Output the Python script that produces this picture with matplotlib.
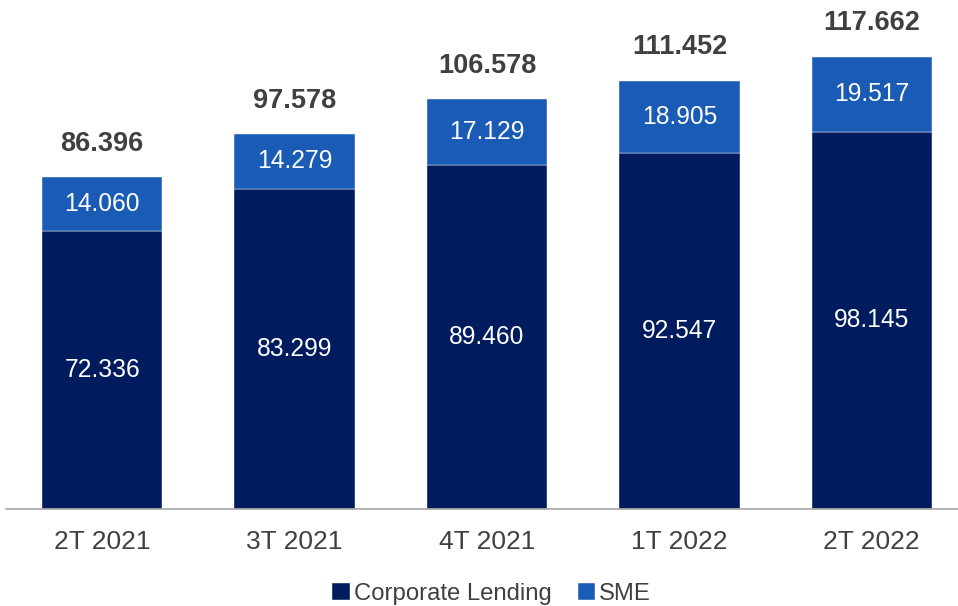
"""Stacked bar chart: Corporate Lending + SME by quarter."""

import matplotlib
matplotlib.use("Agg")
import matplotlib.pyplot as plt
import numpy as np

matplotlib.rcParams["font.family"] = ["Liberation Sans", "DejaVu Sans"]

quarters = ["2T 2021", "3T 2021", "4T 2021", "1T 2022", "2T 2022"]
corporate = [72.336, 83.299, 89.460, 92.547, 98.145]
sme = [14.060, 14.279, 17.129, 18.905, 19.517]
totals = [86.396, 97.578, 106.578, 111.452, 117.662]

NAVY = "#001B5E"
BLUE = "#1A5CB5"
TEXT = "#404040"


def fmt(v):
    return f"{v:.3f}"


fig = plt.figure(figsize=(9.58, 6.06), dpi=100)
ax = fig.add_axes([6 / 958, 97 / 606, 952 / 958, 509 / 606])

x = np.arange(len(quarters))
w = 0.625
b1 = ax.bar(x, corporate, w, color=NAVY, edgecolor="white", linewidth=0.3,
            label="Corporate Lending")
b2 = ax.bar(x, sme, w, bottom=corporate, color=BLUE, edgecolor="white",
            linewidth=0.3, label="SME")

for xi, c, s, t in zip(x, corporate, sme, totals):
    ax.text(xi, c / 2, fmt(c), ha="center", va="center", color="white", fontsize=17.7)
    ax.text(xi, c + s / 2, fmt(s), ha="center", va="center", color="white", fontsize=17.7)
    ax.annotate(fmt(t), (xi, t), xytext=(0, 24), textcoords="offset points",
                ha="center", va="center", color=TEXT, fontsize=19.5, fontweight="bold")

ax.set_xlim(-0.5, -0.5 + 952 / 192.4)
ax.set_ylim(0, 132.4)
ax.set_xticks(x)
ax.set_xticklabels(quarters, fontsize=19, color=TEXT)
ax.tick_params(axis="x", length=0, pad=15)
ax.set_yticks([])
for side in ["top", "right", "left"]:
    ax.spines[side].set_visible(False)
ax.spines["bottom"].set_color("#A6A6A6")
ax.spines["bottom"].set_linewidth(1.2)

fig.legend(handles=[b1, b2], loc="center", bbox_to_anchor=(0.513, 12 / 606), ncol=2,
           frameon=False, fontsize=17.2, handlelength=0.75, handleheight=0.75,
           handletextpad=0.15, columnspacing=1.1, labelcolor=TEXT)

fig.savefig("out.png", dpi=100)
plt.close(fig)
